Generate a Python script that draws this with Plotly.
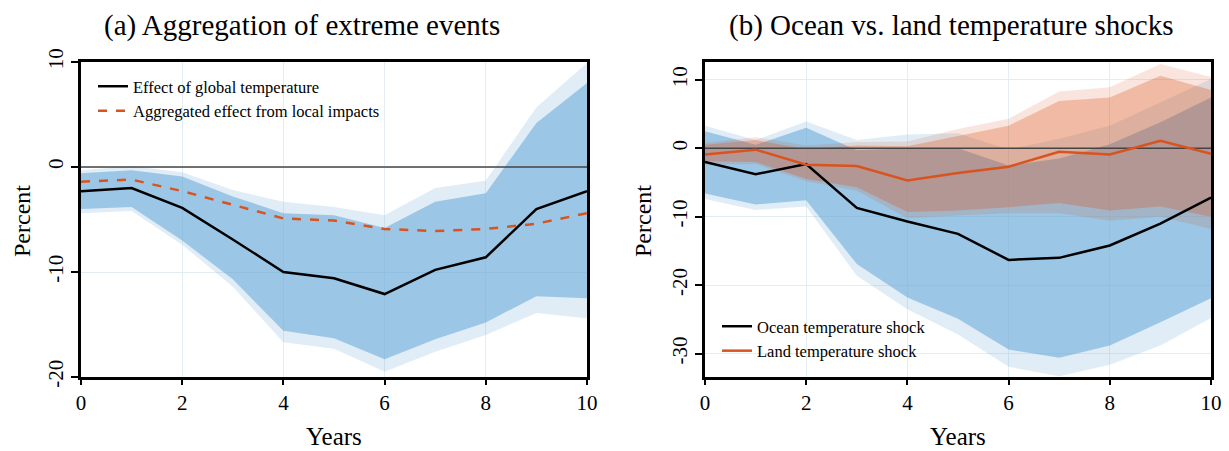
import plotly.graph_objects as go

# The page has an 8px body margin; figure coords = screen px - 8
OFF = 8
W, H = 1229 - OFF, 451 - OFF

years = list(range(11))

# Panel (a)
global_effect = [-2.3, -2.0, -3.9, -6.9, -10.0, -10.6, -12.1, -9.8, -8.6, -4.0, -2.3]
global_lo68 = [-4.0, -3.8, -7.0, -10.7, -15.6, -16.3, -18.3, -16.4, -14.8, -12.3, -12.5]
global_hi68 = [-0.6, -0.3, -0.9, -2.8, -4.4, -4.6, -5.8, -3.3, -2.5, 4.2, 8.0]
global_lo90 = [-4.4, -4.2, -7.4, -11.4, -16.7, -17.3, -19.5, -17.6, -16.0, -13.9, -14.4]
global_hi90 = [-0.3, 0.1, -0.5, -2.2, -3.3, -3.8, -4.6, -2.0, -1.3, 5.7, 9.9]
aggregated = [-1.4, -1.2, -2.3, -3.6, -4.9, -5.1, -5.9, -6.1, -5.9, -5.4, -4.4]

# Panel (b)
ocean = [-2.0, -3.8, -2.3, -8.7, -10.7, -12.5, -16.3, -16.0, -14.2, -11.0, -7.2]
ocean_lo68 = [-6.6, -8.2, -7.6, -16.9, -21.8, -24.9, -29.4, -30.6, -28.8, -25.4, -21.9]
ocean_hi68 = [2.5, 0.5, 3.0, -0.3, 0.0, 0.0, -2.5, -1.5, 0.6, 3.8, 7.4]
ocean_lo90 = [-7.4, -9.0, -8.5, -18.6, -23.5, -27.2, -31.9, -33.3, -31.6, -28.8, -24.8]
ocean_hi90 = [3.3, 1.2, 3.9, 1.2, 2.0, 2.2, -0.2, 1.4, 3.3, 6.7, 10.1]
land = [-0.9, -0.2, -2.4, -2.6, -4.7, -3.6, -2.7, -0.5, -0.9, 1.1, -0.8]
land_lo68 = [-1.9, -2.0, -4.5, -5.7, -9.3, -9.1, -8.6, -8.0, -9.1, -8.5, -10.0]
land_hi68 = [0.5, 1.2, -0.1, 0.4, 0.3, 1.8, 3.3, 6.9, 7.4, 10.6, 8.5]
land_lo90 = [-2.4, -2.3, -4.8, -6.2, -10.2, -9.8, -9.5, -9.5, -10.6, -10.0, -11.8]
land_hi90 = [0.8, 1.6, 0.4, 0.9, 1.0, 2.8, 4.3, 8.3, 8.9, 12.3, 10.4]

xticks = [0, 2, 4, 6, 8, 10]
yticks_a = [-20, -10, 0, 10]
yticks_b = [-30, -20, -10, 0, 10]

FONT = "Liberation Serif"
BLUE = "100,165,215"
ORANGE = "217,83,25"
ORANGE_LINE = "#d9531e"


def px(x):
    return (x - OFF) / W


def py(y):
    return 1 - (y - OFF) / H


fig = go.Figure()


def band(lo, hi, rgba, xa, ya):
    fig.add_trace(go.Scatter(
        x=years + years[::-1], y=hi + lo[::-1], fill="toself",
        fillcolor=rgba, line=dict(width=0), mode="lines",
        hoverinfo="skip", showlegend=False, xaxis=xa, yaxis=ya))


def zero(xa, ya):
    fig.add_trace(go.Scatter(x=[years[0], years[-1]], y=[0, 0], mode="lines",
                             line=dict(color="#444444", width=1.4),
                             hoverinfo="skip", showlegend=False, xaxis=xa, yaxis=ya))


# Panel (a)
band(global_lo90, global_hi90, f"rgba({BLUE},0.2)", "x", "y")
band(global_lo68, global_hi68, f"rgba({BLUE},0.55)", "x", "y")
zero("x", "y")
fig.add_trace(go.Scatter(x=years, y=global_effect, mode="lines", name="Effect of global temperature",
                         line=dict(color="black", width=2.5), legend="legend", legendgroup="a1"))
fig.add_trace(go.Scatter(x=years, y=aggregated, mode="lines", name="Aggregated effect from local impacts",
                         line=dict(color=ORANGE_LINE, width=2.5, dash="dash"), legend="legend", legendgroup="a2"))

# Panel (b)
band(ocean_lo90, ocean_hi90, f"rgba({BLUE},0.2)", "x2", "y2")
band(ocean_lo68, ocean_hi68, f"rgba({BLUE},0.55)", "x2", "y2")
band(land_lo90, land_hi90, f"rgba({ORANGE},0.15)", "x2", "y2")
band(land_lo68, land_hi68, f"rgba({ORANGE},0.29)", "x2", "y2")
zero("x2", "y2")
fig.add_trace(go.Scatter(x=years, y=ocean, mode="lines", name="Ocean temperature shock",
                         line=dict(color="black", width=2.5), xaxis="x2", yaxis="y2",
                         legend="legend2", legendgroup="b1"))
fig.add_trace(go.Scatter(x=years, y=land, mode="lines", name="Land temperature shock",
                         line=dict(color=ORANGE_LINE, width=2.5), xaxis="x2", yaxis="y2",
                         legend="legend2", legendgroup="b2"))

ax_common = dict(showline=True, linecolor="black", linewidth=2.5, mirror=True,
                 ticks="outside", tickcolor="black", tickwidth=1.5, automargin=False,
                 showgrid=True, gridcolor="#e3eef2", gridwidth=1, zeroline=False,
                 tickfont=dict(family=FONT, size=21, color="black"))

yb, yt = py(377), py(62)

fig.update_layout(
    width=W, height=H, margin=dict(l=0, r=0, t=0, b=0, autoexpand=False),
    paper_bgcolor="white", plot_bgcolor="white",
    font=dict(family=FONT, color="black"),
    xaxis=dict(domain=[px(81), px(587)], range=[0, 10], tickvals=xticks,
               ticktext=[str(v) for v in xticks], ticklen=5, anchor="y", **ax_common),
    yaxis=dict(domain=[yb, yt], range=[-20, 10], tickvals=yticks_a,
               ticktext=[str(v) for v in yticks_a], ticklen=7,
               tickangle=-90, anchor="x", **ax_common),
    xaxis2=dict(domain=[px(705), px(1211)], range=[0, 10], tickvals=xticks,
                ticktext=[str(v) for v in xticks], ticklen=5, anchor="y2", **ax_common),
    yaxis2=dict(domain=[yb, yt], range=[-33.4, 12.6], tickvals=yticks_b,
                ticktext=[str(v) for v in yticks_b], ticklen=7,
                tickangle=-90, anchor="x2", **ax_common),
    legend=dict(x=px(93), y=py(69), xanchor="left", yanchor="top",
                bgcolor="rgba(0,0,0,0)", font=dict(family=FONT, size=16.5, color="black"),
                tracegroupgap=0, itemwidth=30),
    legend2=dict(x=px(717), y=py(309), xanchor="left", yanchor="top",
                 bgcolor="rgba(0,0,0,0)", font=dict(family=FONT, size=16.5, color="black"),
                 tracegroupgap=0, itemwidth=30),
    showlegend=True,
)

ann = [
    dict(text="(a) Aggregation of extreme events", x=302, y=26, size=29, angle=0),
    dict(text="(b) Ocean vs. land temperature shocks", x=951, y=26, size=29, angle=0),
    dict(text="Percent", x=22, y=221, size=24, angle=-90),
    dict(text="Percent", x=643, y=221, size=24, angle=-90),
    dict(text="Years", x=334, y=436, size=25, angle=0),
    dict(text="Years", x=958, y=436, size=25, angle=0),
]
for a in ann:
    fig.add_annotation(text=a["text"], x=px(a["x"]), y=py(a["y"]), xref="paper", yref="paper",
                       xanchor="center", yanchor="middle", showarrow=False, textangle=a["angle"],
                       font=dict(family=FONT, size=a["size"], color="black"))

fig.write_html("out.html")
